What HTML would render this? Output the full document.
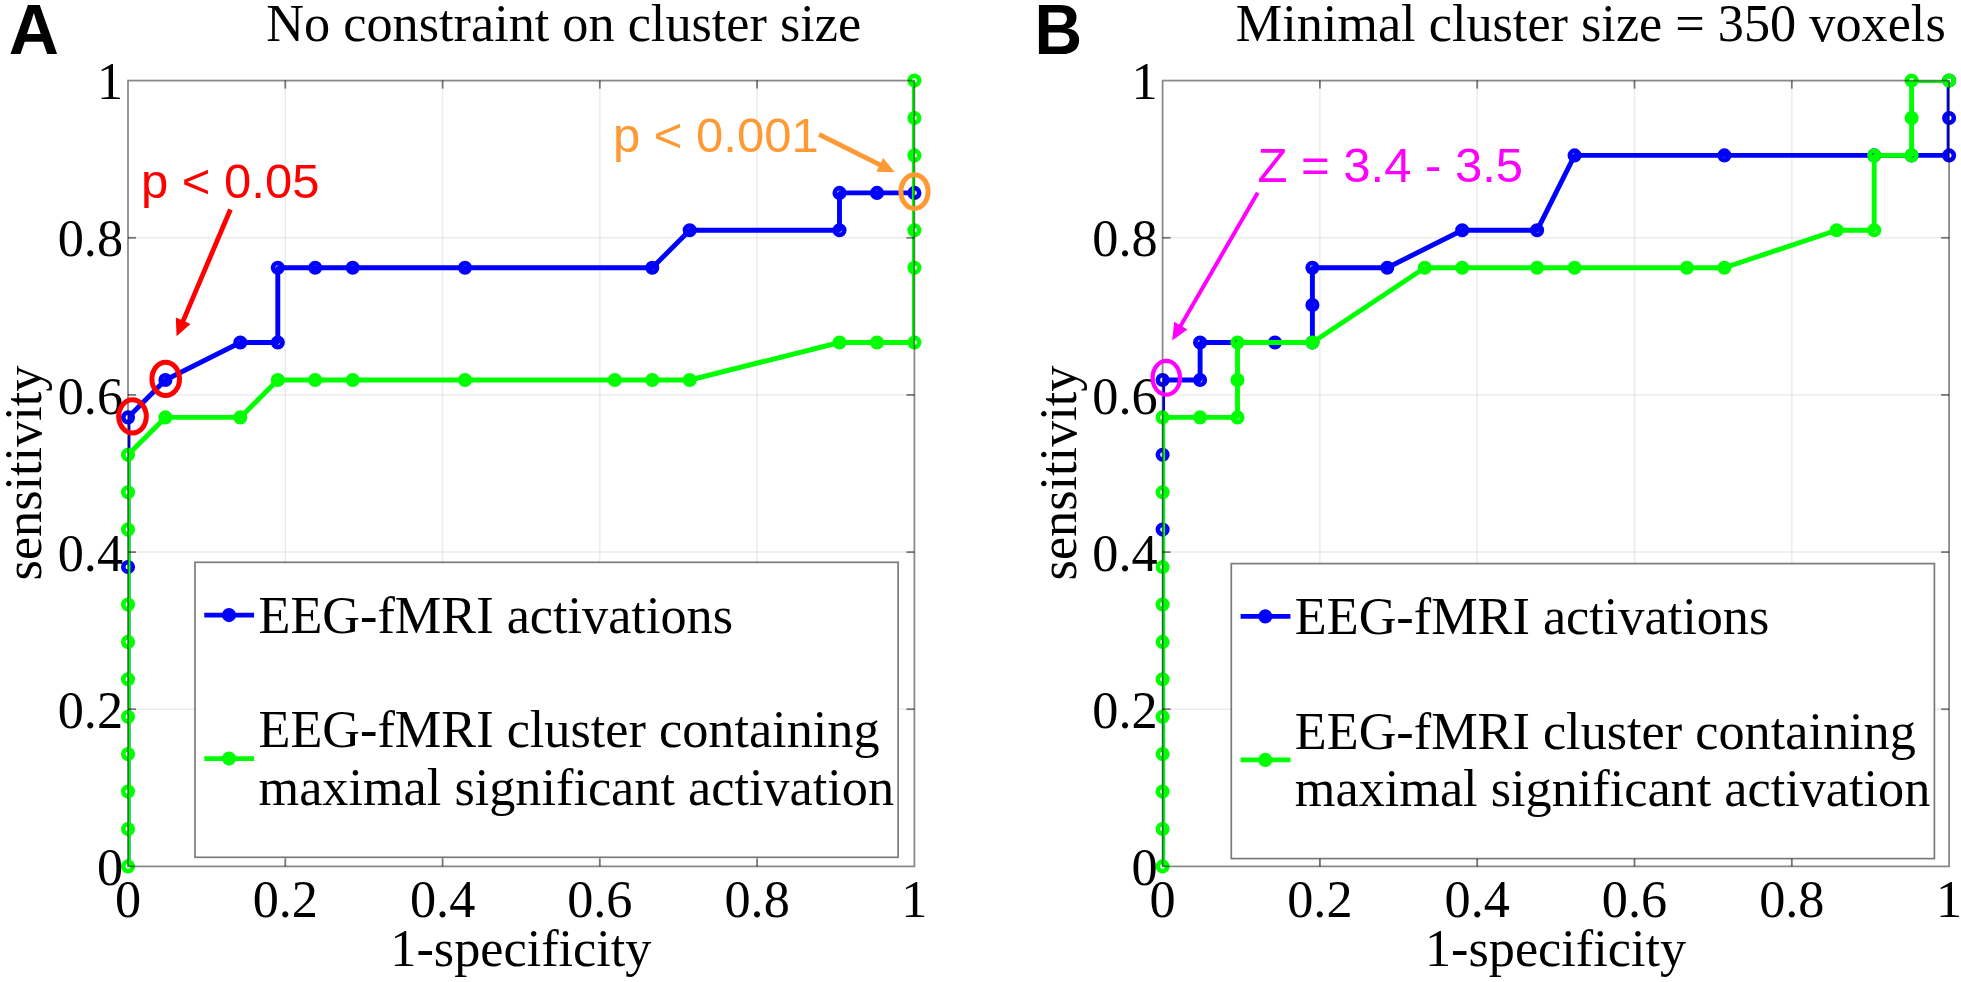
<!DOCTYPE html>
<html><head><meta charset="utf-8"><title>ROC curves</title>
<style>
html,body{margin:0;padding:0;background:#fff;}
body{width:1961px;height:982px;overflow:hidden;}
svg{display:block;}
.tk{font-family:"Liberation Serif",serif;font-size:52.25px;fill:#000;}
.an{font-family:"Liberation Sans",sans-serif;font-size:49px;}
.pl{font-family:"Liberation Sans",sans-serif;font-size:68.5px;font-weight:bold;fill:#000;}
</style></head><body>
<svg width="1961" height="982" viewBox="0 0 1961 982">
<rect width="1961" height="982" fill="#fff"/>
<clipPath id="clipA"><rect x="127.9" y="80.5" width="786.6" height="786.0"/></clipPath>
<line x1="285.3" y1="80.6" x2="285.3" y2="866.4" stroke="#000" stroke-opacity="0.075" stroke-width="1.5"/>
<line x1="128.0" y1="709.2" x2="914.4" y2="709.2" stroke="#000" stroke-opacity="0.075" stroke-width="1.5"/>
<line x1="442.6" y1="80.6" x2="442.6" y2="866.4" stroke="#000" stroke-opacity="0.075" stroke-width="1.5"/>
<line x1="128.0" y1="552.1" x2="914.4" y2="552.1" stroke="#000" stroke-opacity="0.075" stroke-width="1.5"/>
<line x1="599.8" y1="80.6" x2="599.8" y2="866.4" stroke="#000" stroke-opacity="0.075" stroke-width="1.5"/>
<line x1="128.0" y1="394.9" x2="914.4" y2="394.9" stroke="#000" stroke-opacity="0.075" stroke-width="1.5"/>
<line x1="757.1" y1="80.6" x2="757.1" y2="866.4" stroke="#000" stroke-opacity="0.075" stroke-width="1.5"/>
<line x1="128.0" y1="237.8" x2="914.4" y2="237.8" stroke="#000" stroke-opacity="0.075" stroke-width="1.5"/>
<clipPath id="clipB"><rect x="1162.5" y="80.5" width="786.7" height="786.0"/></clipPath>
<line x1="1319.9" y1="80.6" x2="1319.9" y2="866.4" stroke="#000" stroke-opacity="0.075" stroke-width="1.5"/>
<line x1="1162.6" y1="709.2" x2="1949.1" y2="709.2" stroke="#000" stroke-opacity="0.075" stroke-width="1.5"/>
<line x1="1477.2" y1="80.6" x2="1477.2" y2="866.4" stroke="#000" stroke-opacity="0.075" stroke-width="1.5"/>
<line x1="1162.6" y1="552.1" x2="1949.1" y2="552.1" stroke="#000" stroke-opacity="0.075" stroke-width="1.5"/>
<line x1="1634.5" y1="80.6" x2="1634.5" y2="866.4" stroke="#000" stroke-opacity="0.075" stroke-width="1.5"/>
<line x1="1162.6" y1="394.9" x2="1949.1" y2="394.9" stroke="#000" stroke-opacity="0.075" stroke-width="1.5"/>
<line x1="1791.8" y1="80.6" x2="1791.8" y2="866.4" stroke="#000" stroke-opacity="0.075" stroke-width="1.5"/>
<line x1="1162.6" y1="237.8" x2="1949.1" y2="237.8" stroke="#000" stroke-opacity="0.075" stroke-width="1.5"/>
<polyline clip-path="url(#clipA)" points="128.0,866.4 128.0,567.0 128.0,417.4 165.4,380.0 240.3,342.5 277.8,342.5 277.8,267.7 315.2,267.7 352.7,267.7 465.0,267.7 652.3,267.7 689.7,230.3 839.5,230.3 839.5,192.9 877.0,192.9 914.4,192.9" fill="none" stroke="#0000ff" stroke-width="4.9" stroke-linejoin="bevel"/>
<circle cx="128.0" cy="567.0" r="4.75" fill="none" stroke="#0000ff" stroke-width="4.6"/>
<circle cx="128.0" cy="417.4" r="4.75" fill="none" stroke="#0000ff" stroke-width="4.6"/>
<circle cx="165.4" cy="380.0" r="4.75" fill="none" stroke="#0000ff" stroke-width="4.6"/>
<circle cx="240.3" cy="342.5" r="4.75" fill="none" stroke="#0000ff" stroke-width="4.6"/>
<circle cx="277.8" cy="342.5" r="4.75" fill="none" stroke="#0000ff" stroke-width="4.6"/>
<circle cx="277.8" cy="267.7" r="4.75" fill="none" stroke="#0000ff" stroke-width="4.6"/>
<circle cx="315.2" cy="267.7" r="4.75" fill="none" stroke="#0000ff" stroke-width="4.6"/>
<circle cx="352.7" cy="267.7" r="4.75" fill="none" stroke="#0000ff" stroke-width="4.6"/>
<circle cx="465.0" cy="267.7" r="4.75" fill="none" stroke="#0000ff" stroke-width="4.6"/>
<circle cx="652.3" cy="267.7" r="4.75" fill="none" stroke="#0000ff" stroke-width="4.6"/>
<circle cx="689.7" cy="230.3" r="4.75" fill="none" stroke="#0000ff" stroke-width="4.6"/>
<circle cx="839.5" cy="230.3" r="4.75" fill="none" stroke="#0000ff" stroke-width="4.6"/>
<circle cx="839.5" cy="192.9" r="4.75" fill="none" stroke="#0000ff" stroke-width="4.6"/>
<circle cx="877.0" cy="192.9" r="4.75" fill="none" stroke="#0000ff" stroke-width="4.6"/>
<circle cx="914.4" cy="192.9" r="4.75" fill="none" stroke="#0000ff" stroke-width="4.6"/>
<polyline clip-path="url(#clipA)" points="128.0,866.4 128.0,829.0 128.0,791.6 128.0,754.1 128.0,716.7 128.0,679.3 128.0,641.9 128.0,604.5 128.0,529.6 128.0,492.2 128.0,454.8 165.4,417.4 240.3,417.4 277.8,380.0 315.2,380.0 352.7,380.0 465.0,380.0 614.8,380.0 652.3,380.0 689.7,380.0 839.5,342.5 877.0,342.5 914.4,342.5 914.4,267.7 914.4,230.3 914.4,192.9 914.4,155.4 914.4,118.0 914.4,80.6" fill="none" stroke="#00ff00" stroke-width="4.9" stroke-linejoin="bevel"/>
<circle cx="128.0" cy="866.4" r="4.75" fill="none" stroke="#00ff00" stroke-width="4.6"/>
<circle cx="128.0" cy="829.0" r="4.75" fill="none" stroke="#00ff00" stroke-width="4.6"/>
<circle cx="128.0" cy="791.6" r="4.75" fill="none" stroke="#00ff00" stroke-width="4.6"/>
<circle cx="128.0" cy="754.1" r="4.75" fill="none" stroke="#00ff00" stroke-width="4.6"/>
<circle cx="128.0" cy="716.7" r="4.75" fill="none" stroke="#00ff00" stroke-width="4.6"/>
<circle cx="128.0" cy="679.3" r="4.75" fill="none" stroke="#00ff00" stroke-width="4.6"/>
<circle cx="128.0" cy="641.9" r="4.75" fill="none" stroke="#00ff00" stroke-width="4.6"/>
<circle cx="128.0" cy="604.5" r="4.75" fill="none" stroke="#00ff00" stroke-width="4.6"/>
<circle cx="128.0" cy="529.6" r="4.75" fill="none" stroke="#00ff00" stroke-width="4.6"/>
<circle cx="128.0" cy="492.2" r="4.75" fill="none" stroke="#00ff00" stroke-width="4.6"/>
<circle cx="128.0" cy="454.8" r="4.75" fill="none" stroke="#00ff00" stroke-width="4.6"/>
<circle cx="165.4" cy="417.4" r="4.75" fill="none" stroke="#00ff00" stroke-width="4.6"/>
<circle cx="240.3" cy="417.4" r="4.75" fill="none" stroke="#00ff00" stroke-width="4.6"/>
<circle cx="277.8" cy="380.0" r="4.75" fill="none" stroke="#00ff00" stroke-width="4.6"/>
<circle cx="315.2" cy="380.0" r="4.75" fill="none" stroke="#00ff00" stroke-width="4.6"/>
<circle cx="352.7" cy="380.0" r="4.75" fill="none" stroke="#00ff00" stroke-width="4.6"/>
<circle cx="465.0" cy="380.0" r="4.75" fill="none" stroke="#00ff00" stroke-width="4.6"/>
<circle cx="614.8" cy="380.0" r="4.75" fill="none" stroke="#00ff00" stroke-width="4.6"/>
<circle cx="652.3" cy="380.0" r="4.75" fill="none" stroke="#00ff00" stroke-width="4.6"/>
<circle cx="689.7" cy="380.0" r="4.75" fill="none" stroke="#00ff00" stroke-width="4.6"/>
<circle cx="839.5" cy="342.5" r="4.75" fill="none" stroke="#00ff00" stroke-width="4.6"/>
<circle cx="877.0" cy="342.5" r="4.75" fill="none" stroke="#00ff00" stroke-width="4.6"/>
<circle cx="914.4" cy="342.5" r="4.75" fill="none" stroke="#00ff00" stroke-width="4.6"/>
<circle cx="914.4" cy="267.7" r="4.75" fill="none" stroke="#00ff00" stroke-width="4.6"/>
<circle cx="914.4" cy="230.3" r="4.75" fill="none" stroke="#00ff00" stroke-width="4.6"/>
<circle cx="914.4" cy="155.4" r="4.75" fill="none" stroke="#00ff00" stroke-width="4.6"/>
<circle cx="914.4" cy="118.0" r="4.75" fill="none" stroke="#00ff00" stroke-width="4.6"/>
<circle cx="914.4" cy="80.6" r="4.75" fill="none" stroke="#00ff00" stroke-width="4.6"/>
<polyline clip-path="url(#clipB)" points="1162.6,866.4 1162.6,529.6 1162.6,454.8 1162.6,380.0 1200.1,380.0 1200.1,342.5 1275.0,342.5 1312.4,342.5 1312.4,305.1 1312.4,267.7 1387.3,267.7 1462.2,230.3 1537.1,230.3 1574.6,155.4 1724.4,155.4 1874.2,155.4 1911.6,155.4 1949.1,155.4 1949.1,118.0 1949.1,80.6" fill="none" stroke="#0000ff" stroke-width="4.9" stroke-linejoin="bevel"/>
<circle cx="1162.6" cy="529.6" r="4.75" fill="none" stroke="#0000ff" stroke-width="4.6"/>
<circle cx="1162.6" cy="454.8" r="4.75" fill="none" stroke="#0000ff" stroke-width="4.6"/>
<circle cx="1162.6" cy="380.0" r="4.75" fill="none" stroke="#0000ff" stroke-width="4.6"/>
<circle cx="1200.1" cy="380.0" r="4.75" fill="none" stroke="#0000ff" stroke-width="4.6"/>
<circle cx="1200.1" cy="342.5" r="4.75" fill="none" stroke="#0000ff" stroke-width="4.6"/>
<circle cx="1275.0" cy="342.5" r="4.75" fill="none" stroke="#0000ff" stroke-width="4.6"/>
<circle cx="1312.4" cy="342.5" r="4.75" fill="none" stroke="#0000ff" stroke-width="4.6"/>
<circle cx="1312.4" cy="305.1" r="4.75" fill="none" stroke="#0000ff" stroke-width="4.6"/>
<circle cx="1312.4" cy="267.7" r="4.75" fill="none" stroke="#0000ff" stroke-width="4.6"/>
<circle cx="1387.3" cy="267.7" r="4.75" fill="none" stroke="#0000ff" stroke-width="4.6"/>
<circle cx="1462.2" cy="230.3" r="4.75" fill="none" stroke="#0000ff" stroke-width="4.6"/>
<circle cx="1537.1" cy="230.3" r="4.75" fill="none" stroke="#0000ff" stroke-width="4.6"/>
<circle cx="1574.6" cy="155.4" r="4.75" fill="none" stroke="#0000ff" stroke-width="4.6"/>
<circle cx="1724.4" cy="155.4" r="4.75" fill="none" stroke="#0000ff" stroke-width="4.6"/>
<circle cx="1874.2" cy="155.4" r="4.75" fill="none" stroke="#0000ff" stroke-width="4.6"/>
<circle cx="1911.6" cy="155.4" r="4.75" fill="none" stroke="#0000ff" stroke-width="4.6"/>
<circle cx="1949.1" cy="155.4" r="4.75" fill="none" stroke="#0000ff" stroke-width="4.6"/>
<circle cx="1949.1" cy="118.0" r="4.75" fill="none" stroke="#0000ff" stroke-width="4.6"/>
<circle cx="1949.1" cy="80.6" r="4.75" fill="none" stroke="#0000ff" stroke-width="4.6"/>
<polyline clip-path="url(#clipB)" points="1162.6,866.4 1162.6,829.0 1162.6,791.6 1162.6,754.1 1162.6,716.7 1162.6,679.3 1162.6,641.9 1162.6,604.5 1162.6,567.0 1162.6,492.2 1162.6,417.4 1200.1,417.4 1237.5,417.4 1237.5,380.0 1237.5,342.5 1312.4,342.5 1424.8,267.7 1462.2,267.7 1537.1,267.7 1574.6,267.7 1686.9,267.7 1724.4,267.7 1836.7,230.3 1874.2,230.3 1874.2,155.4 1911.6,155.4 1911.6,118.0 1911.6,80.6 1949.1,80.6" fill="none" stroke="#00ff00" stroke-width="4.9" stroke-linejoin="bevel"/>
<circle cx="1162.6" cy="866.4" r="4.75" fill="none" stroke="#00ff00" stroke-width="4.6"/>
<circle cx="1162.6" cy="829.0" r="4.75" fill="none" stroke="#00ff00" stroke-width="4.6"/>
<circle cx="1162.6" cy="791.6" r="4.75" fill="none" stroke="#00ff00" stroke-width="4.6"/>
<circle cx="1162.6" cy="754.1" r="4.75" fill="none" stroke="#00ff00" stroke-width="4.6"/>
<circle cx="1162.6" cy="716.7" r="4.75" fill="none" stroke="#00ff00" stroke-width="4.6"/>
<circle cx="1162.6" cy="679.3" r="4.75" fill="none" stroke="#00ff00" stroke-width="4.6"/>
<circle cx="1162.6" cy="641.9" r="4.75" fill="none" stroke="#00ff00" stroke-width="4.6"/>
<circle cx="1162.6" cy="604.5" r="4.75" fill="none" stroke="#00ff00" stroke-width="4.6"/>
<circle cx="1162.6" cy="567.0" r="4.75" fill="none" stroke="#00ff00" stroke-width="4.6"/>
<circle cx="1162.6" cy="492.2" r="4.75" fill="none" stroke="#00ff00" stroke-width="4.6"/>
<circle cx="1162.6" cy="417.4" r="4.75" fill="none" stroke="#00ff00" stroke-width="4.6"/>
<circle cx="1200.1" cy="417.4" r="4.75" fill="none" stroke="#00ff00" stroke-width="4.6"/>
<circle cx="1237.5" cy="417.4" r="4.75" fill="none" stroke="#00ff00" stroke-width="4.6"/>
<circle cx="1237.5" cy="380.0" r="4.75" fill="none" stroke="#00ff00" stroke-width="4.6"/>
<circle cx="1237.5" cy="342.5" r="4.75" fill="none" stroke="#00ff00" stroke-width="4.6"/>
<circle cx="1312.4" cy="342.5" r="4.75" fill="none" stroke="#00ff00" stroke-width="4.6"/>
<circle cx="1424.8" cy="267.7" r="4.75" fill="none" stroke="#00ff00" stroke-width="4.6"/>
<circle cx="1462.2" cy="267.7" r="4.75" fill="none" stroke="#00ff00" stroke-width="4.6"/>
<circle cx="1537.1" cy="267.7" r="4.75" fill="none" stroke="#00ff00" stroke-width="4.6"/>
<circle cx="1574.6" cy="267.7" r="4.75" fill="none" stroke="#00ff00" stroke-width="4.6"/>
<circle cx="1686.9" cy="267.7" r="4.75" fill="none" stroke="#00ff00" stroke-width="4.6"/>
<circle cx="1724.4" cy="267.7" r="4.75" fill="none" stroke="#00ff00" stroke-width="4.6"/>
<circle cx="1836.7" cy="230.3" r="4.75" fill="none" stroke="#00ff00" stroke-width="4.6"/>
<circle cx="1874.2" cy="230.3" r="4.75" fill="none" stroke="#00ff00" stroke-width="4.6"/>
<circle cx="1874.2" cy="155.4" r="4.75" fill="none" stroke="#00ff00" stroke-width="4.6"/>
<circle cx="1911.6" cy="155.4" r="4.75" fill="none" stroke="#00ff00" stroke-width="4.6"/>
<circle cx="1911.6" cy="118.0" r="4.75" fill="none" stroke="#00ff00" stroke-width="4.6"/>
<circle cx="1911.6" cy="80.6" r="4.75" fill="none" stroke="#00ff00" stroke-width="4.6"/>
<circle cx="1949.1" cy="80.6" r="4.75" fill="none" stroke="#00ff00" stroke-width="4.6"/>
<line x1="285.3" y1="866.4" x2="285.3" y2="858.4" stroke="#000" stroke-opacity="0.5" stroke-width="1.8"/>
<line x1="285.3" y1="80.6" x2="285.3" y2="88.6" stroke="#000" stroke-opacity="0.5" stroke-width="1.8"/>
<line x1="128.0" y1="709.2" x2="136.0" y2="709.2" stroke="#000" stroke-opacity="0.5" stroke-width="1.8"/>
<line x1="914.4" y1="709.2" x2="906.4" y2="709.2" stroke="#000" stroke-opacity="0.5" stroke-width="1.8"/>
<line x1="442.6" y1="866.4" x2="442.6" y2="858.4" stroke="#000" stroke-opacity="0.5" stroke-width="1.8"/>
<line x1="442.6" y1="80.6" x2="442.6" y2="88.6" stroke="#000" stroke-opacity="0.5" stroke-width="1.8"/>
<line x1="128.0" y1="552.1" x2="136.0" y2="552.1" stroke="#000" stroke-opacity="0.5" stroke-width="1.8"/>
<line x1="914.4" y1="552.1" x2="906.4" y2="552.1" stroke="#000" stroke-opacity="0.5" stroke-width="1.8"/>
<line x1="599.8" y1="866.4" x2="599.8" y2="858.4" stroke="#000" stroke-opacity="0.5" stroke-width="1.8"/>
<line x1="599.8" y1="80.6" x2="599.8" y2="88.6" stroke="#000" stroke-opacity="0.5" stroke-width="1.8"/>
<line x1="128.0" y1="394.9" x2="136.0" y2="394.9" stroke="#000" stroke-opacity="0.5" stroke-width="1.8"/>
<line x1="914.4" y1="394.9" x2="906.4" y2="394.9" stroke="#000" stroke-opacity="0.5" stroke-width="1.8"/>
<line x1="757.1" y1="866.4" x2="757.1" y2="858.4" stroke="#000" stroke-opacity="0.5" stroke-width="1.8"/>
<line x1="757.1" y1="80.6" x2="757.1" y2="88.6" stroke="#000" stroke-opacity="0.5" stroke-width="1.8"/>
<line x1="128.0" y1="237.8" x2="136.0" y2="237.8" stroke="#000" stroke-opacity="0.5" stroke-width="1.8"/>
<line x1="914.4" y1="237.8" x2="906.4" y2="237.8" stroke="#000" stroke-opacity="0.5" stroke-width="1.8"/>
<rect x="128.0" y="80.6" width="786.4" height="785.8" fill="none" stroke="#000" stroke-opacity="0.46" stroke-width="1.8"/>
<text class="tk" x="128.0" y="917.2" text-anchor="middle">0</text>
<text class="tk" x="123.0" y="885.0" text-anchor="end">0</text>
<text class="tk" x="285.3" y="917.2" text-anchor="middle">0.2</text>
<text class="tk" x="123.0" y="727.8" text-anchor="end">0.2</text>
<text class="tk" x="442.6" y="917.2" text-anchor="middle">0.4</text>
<text class="tk" x="123.0" y="570.7" text-anchor="end">0.4</text>
<text class="tk" x="599.8" y="917.2" text-anchor="middle">0.6</text>
<text class="tk" x="123.0" y="413.5" text-anchor="end">0.6</text>
<text class="tk" x="757.1" y="917.2" text-anchor="middle">0.8</text>
<text class="tk" x="123.0" y="256.4" text-anchor="end">0.8</text>
<text class="tk" x="914.4" y="917.2" text-anchor="middle">1</text>
<text class="tk" x="123.0" y="99.2" text-anchor="end">1</text>
<text class="tk" x="520.9" y="966.1" text-anchor="middle">1-specificity</text>
<text class="tk" transform="translate(41.0,473) rotate(-90)" text-anchor="middle">sensitivity</text>
<line x1="1319.9" y1="866.4" x2="1319.9" y2="858.4" stroke="#000" stroke-opacity="0.5" stroke-width="1.8"/>
<line x1="1319.9" y1="80.6" x2="1319.9" y2="88.6" stroke="#000" stroke-opacity="0.5" stroke-width="1.8"/>
<line x1="1162.6" y1="709.2" x2="1170.6" y2="709.2" stroke="#000" stroke-opacity="0.5" stroke-width="1.8"/>
<line x1="1949.1" y1="709.2" x2="1941.1" y2="709.2" stroke="#000" stroke-opacity="0.5" stroke-width="1.8"/>
<line x1="1477.2" y1="866.4" x2="1477.2" y2="858.4" stroke="#000" stroke-opacity="0.5" stroke-width="1.8"/>
<line x1="1477.2" y1="80.6" x2="1477.2" y2="88.6" stroke="#000" stroke-opacity="0.5" stroke-width="1.8"/>
<line x1="1162.6" y1="552.1" x2="1170.6" y2="552.1" stroke="#000" stroke-opacity="0.5" stroke-width="1.8"/>
<line x1="1949.1" y1="552.1" x2="1941.1" y2="552.1" stroke="#000" stroke-opacity="0.5" stroke-width="1.8"/>
<line x1="1634.5" y1="866.4" x2="1634.5" y2="858.4" stroke="#000" stroke-opacity="0.5" stroke-width="1.8"/>
<line x1="1634.5" y1="80.6" x2="1634.5" y2="88.6" stroke="#000" stroke-opacity="0.5" stroke-width="1.8"/>
<line x1="1162.6" y1="394.9" x2="1170.6" y2="394.9" stroke="#000" stroke-opacity="0.5" stroke-width="1.8"/>
<line x1="1949.1" y1="394.9" x2="1941.1" y2="394.9" stroke="#000" stroke-opacity="0.5" stroke-width="1.8"/>
<line x1="1791.8" y1="866.4" x2="1791.8" y2="858.4" stroke="#000" stroke-opacity="0.5" stroke-width="1.8"/>
<line x1="1791.8" y1="80.6" x2="1791.8" y2="88.6" stroke="#000" stroke-opacity="0.5" stroke-width="1.8"/>
<line x1="1162.6" y1="237.8" x2="1170.6" y2="237.8" stroke="#000" stroke-opacity="0.5" stroke-width="1.8"/>
<line x1="1949.1" y1="237.8" x2="1941.1" y2="237.8" stroke="#000" stroke-opacity="0.5" stroke-width="1.8"/>
<rect x="1162.6" y="80.6" width="786.5" height="785.8" fill="none" stroke="#000" stroke-opacity="0.46" stroke-width="1.8"/>
<text class="tk" x="1162.6" y="917.2" text-anchor="middle">0</text>
<text class="tk" x="1157.6" y="885.0" text-anchor="end">0</text>
<text class="tk" x="1319.9" y="917.2" text-anchor="middle">0.2</text>
<text class="tk" x="1157.6" y="727.8" text-anchor="end">0.2</text>
<text class="tk" x="1477.2" y="917.2" text-anchor="middle">0.4</text>
<text class="tk" x="1157.6" y="570.7" text-anchor="end">0.4</text>
<text class="tk" x="1634.5" y="917.2" text-anchor="middle">0.6</text>
<text class="tk" x="1157.6" y="413.5" text-anchor="end">0.6</text>
<text class="tk" x="1791.8" y="917.2" text-anchor="middle">0.8</text>
<text class="tk" x="1157.6" y="256.4" text-anchor="end">0.8</text>
<text class="tk" x="1949.1" y="917.2" text-anchor="middle">1</text>
<text class="tk" x="1157.6" y="99.2" text-anchor="end">1</text>
<text class="tk" x="1555.5" y="966.1" text-anchor="middle">1-specificity</text>
<text class="tk" transform="translate(1075.6,473) rotate(-90)" text-anchor="middle">sensitivity</text>
<rect x="195.0" y="562.3" width="703.1" height="295.0" fill="#fff" stroke="#000" stroke-opacity="0.52" stroke-width="1.7"/>
<line x1="204.3" y1="615.1" x2="254.1" y2="615.1" stroke="#0000ff" stroke-width="4.9"/>
<circle cx="229.0" cy="615.1" r="4.75" fill="#0000ff" stroke="#0000ff" stroke-width="4.6"/>
<line x1="204.3" y1="758.6" x2="254.1" y2="758.6" stroke="#00ff00" stroke-width="4.9"/>
<circle cx="229.0" cy="758.6" r="4.75" fill="#00ff00" stroke="#00ff00" stroke-width="4.6"/>
<text class="tk" x="258.5" y="632.7">EEG-fMRI activations</text>
<text class="tk" x="258.5" y="747.4">EEG-fMRI cluster containing</text>
<text class="tk" x="258.5" y="804.9">maximal significant activation</text>
<rect x="1231.3" y="563.6" width="703.1" height="295.0" fill="#fff" stroke="#000" stroke-opacity="0.52" stroke-width="1.7"/>
<line x1="1240.6" y1="616.4" x2="1290.4" y2="616.4" stroke="#0000ff" stroke-width="4.9"/>
<circle cx="1265.3" cy="616.4" r="4.75" fill="#0000ff" stroke="#0000ff" stroke-width="4.6"/>
<line x1="1240.6" y1="759.9" x2="1290.4" y2="759.9" stroke="#00ff00" stroke-width="4.9"/>
<circle cx="1265.3" cy="759.9" r="4.75" fill="#00ff00" stroke="#00ff00" stroke-width="4.6"/>
<text class="tk" x="1294.8" y="634.0">EEG-fMRI activations</text>
<text class="tk" x="1294.8" y="748.7">EEG-fMRI cluster containing</text>
<text class="tk" x="1294.8" y="806.2">maximal significant activation</text>
<ellipse cx="132.5" cy="416.3" rx="13.8" ry="16.6" fill="none" stroke="#ff0000" stroke-width="5"/>
<ellipse cx="165.7" cy="378.9" rx="13.8" ry="16.6" fill="none" stroke="#ff0000" stroke-width="5"/>
<text class="an" x="141" y="198.3" fill="#ff0000">p &lt; 0.05</text>
<line x1="230.4" y1="209.5" x2="182.4" y2="322.6" stroke="#ff0000" stroke-width="4.8"/><polygon points="176.6,336.2 175.8,317.6 190.5,323.9" fill="#ff0000"/>
<ellipse cx="914.5" cy="191.6" rx="13.6" ry="16.9" fill="none" stroke="#ff9933" stroke-width="5"/>
<text class="an" x="613" y="151.5" fill="#ff9933">p &lt; 0.001</text>
<line x1="819.0" y1="134.4" x2="881.6" y2="165.7" stroke="#ff9933" stroke-width="4.8"/><polygon points="894.8,172.3 876.3,171.7 883.2,157.9" fill="#ff9933"/>
<ellipse cx="1166.3" cy="377.8" rx="13.7" ry="16.9" fill="none" stroke="#ff00ff" stroke-width="4.3"/>
<text class="an" x="1257.5" y="181.6" fill="#ff00ff">Z = 3.4 - 3.5</text>
<line x1="1257.7" y1="192.7" x2="1179.8" y2="327.3" stroke="#ff00ff" stroke-width="4"/><polygon points="1172.2,340.5 1174.2,321.8 1187.4,329.4" fill="#ff00ff"/>
<text class="pl" transform="translate(8.65,54) scale(1.015,1.02)">A</text>
<text class="pl" transform="translate(1034.55,54) scale(0.963,1.02)">B</text>
<text class="tk" x="563.8" y="41" text-anchor="middle">No constraint on cluster size</text>
<text class="tk" x="1590.7" y="41" text-anchor="middle">Minimal cluster size = 350 voxels</text>
</svg>
</body></html>
